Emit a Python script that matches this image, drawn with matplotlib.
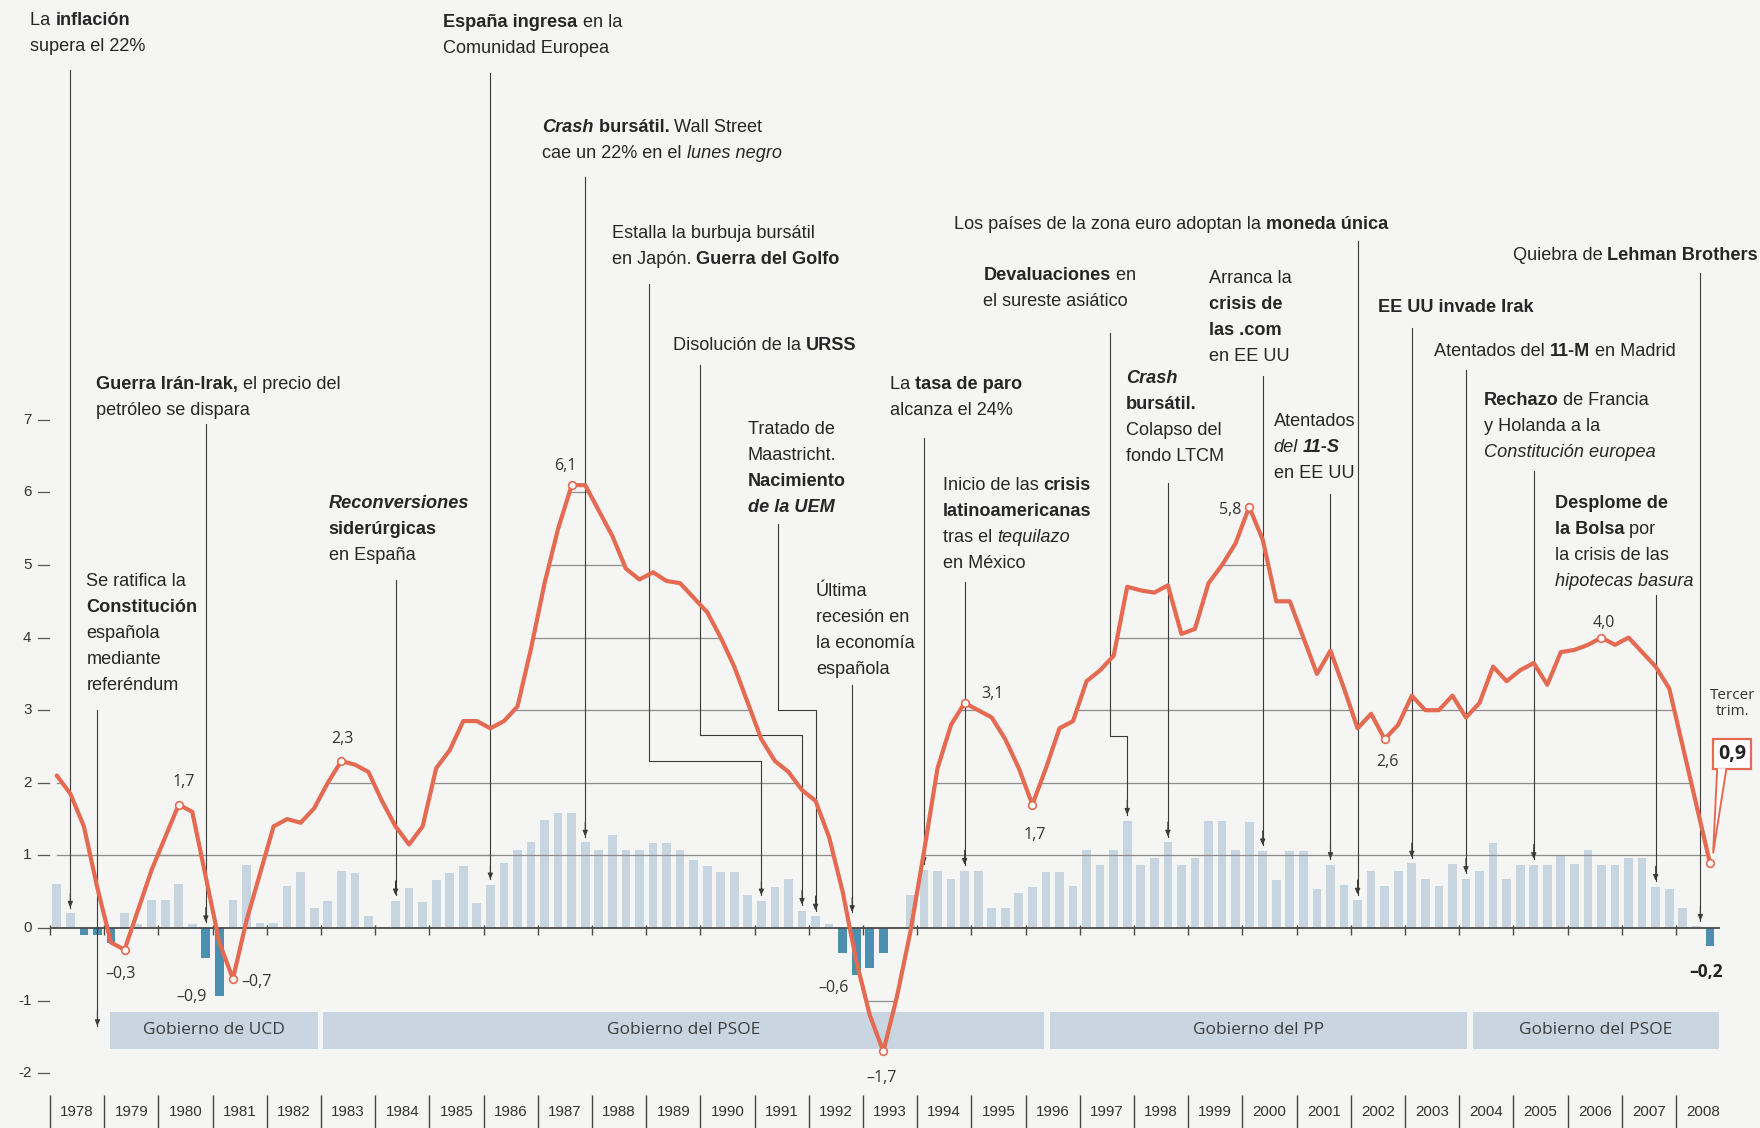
import numpy as np
import matplotlib
matplotlib.use('Agg')
import matplotlib.pyplot as plt
from matplotlib import font_manager as fm
from matplotlib.patches import Rectangle, Polygon
from matplotlib.transforms import IdentityTransform

# PIB de España: variación interanual (línea) y trimestral (barras), 1978 T1 - 2008 T3
gdp_yoy = [
    2.1, 1.85, 1.4, 0.55,     # 1978
    -0.2, -0.3, 0.25, 0.8,    # 1979
    1.25, 1.7, 1.6, 0.7,      # 1980
    -0.2, -0.7, 0.1, 0.75,    # 1981
    1.4, 1.5, 1.45, 1.65,     # 1982
    2.0, 2.3, 2.25, 2.15,     # 1983
    1.75, 1.4, 1.15, 1.4,     # 1984
    2.2, 2.45, 2.85, 2.85,    # 1985
    2.75, 2.85, 3.05, 3.85,   # 1986
    4.75, 5.5, 6.1, 6.1,      # 1987
    5.75, 5.4, 4.95, 4.8,     # 1988
    4.9, 4.78, 4.75, 4.55,    # 1989
    4.35, 4.0, 3.6, 3.1,      # 1990
    2.6, 2.3, 2.15, 1.9,      # 1991
    1.75, 1.25, 0.5, -0.45,   # 1992
    -1.2, -1.7, -0.95, -0.05, # 1993
    1.05, 2.2, 2.8, 3.1,      # 1994
    3.0, 2.9, 2.6, 2.2,       # 1995
    1.7, 2.2, 2.75, 2.85,     # 1996
    3.4, 3.55, 3.75, 4.7,     # 1997
    4.65, 4.62, 4.72, 4.05,   # 1998
    4.12, 4.75, 5.0, 5.3,     # 1999
    5.8, 5.35, 4.5, 4.5,      # 2000
    4.0, 3.5, 3.82, 3.3,      # 2001
    2.75, 2.95, 2.6, 2.8,     # 2002
    3.2, 3.0, 3.0, 3.2,       # 2003
    2.9, 3.1, 3.6, 3.4,       # 2004
    3.55, 3.65, 3.35, 3.8,    # 2005
    3.83, 3.9, 4.0, 3.9,      # 2006
    4.0, 3.8, 3.6, 3.3,       # 2007
    2.5, 1.7, 0.9,            # 2008
]
gdp_qoq = [
    0.6, 0.2, -0.1, -0.1,
    -0.2, 0.2, 0.05, 0.38,
    0.38, 0.6, 0.06, -0.41,
    -0.93, 0.38, 0.87, 0.07,
    0.07, 0.58, 0.77, 0.27,
    0.37, 0.78, 0.76, 0.17,
    0.02, 0.37, 0.55, 0.36,
    0.66, 0.76, 0.85, 0.35,
    0.59, 0.89, 1.08, 1.18,
    1.49, 1.59, 1.58, 1.18,
    1.08, 1.28, 1.08, 1.07,
    1.17, 1.17, 1.07, 0.94,
    0.86, 0.77, 0.77, 0.45,
    0.37, 0.56, 0.67, 0.24,
    0.16, 0.06, -0.35, -0.65,
    -0.55, -0.35, 0.02, 0.45,
    0.8, 0.78, 0.68, 0.79,
    0.78, 0.27, 0.27, 0.48,
    0.57, 0.77, 0.77, 0.58,
    1.07, 0.87, 1.08, 1.48,
    0.87, 0.96, 1.18, 0.87,
    0.96, 1.47, 1.47, 1.07,
    1.46, 1.06, 0.66, 1.06,
    1.06, 0.54, 0.87, 0.59,
    0.38, 0.79, 0.58, 0.79,
    0.89, 0.67, 0.58, 0.88,
    0.68, 0.78, 1.17, 0.67,
    0.87, 0.87, 0.87, 0.99,
    0.88, 1.07, 0.87, 0.87,
    0.96, 0.96, 0.57, 0.54,
    0.27, 0.03, -0.25,
]
years = list(range(1978, 2009))
y_ticks = [7, 6, 5, 4, 3, 2, 1, 0, -1, -2]

gov_labels = ['Gobierno de UCD', 'Gobierno del PSOE', 'Gobierno del PP', 'Gobierno del PSOE']
gov_start = [1979.11, 1983.04, 1996.45, 2004.25]
gov_end = [1982.94, 1996.34, 2004.15, 2008.79]

# puntos destacados de la línea (índice de trimestre) y sus etiquetas
marked_idx = [5, 9, 13, 21, 38, 61, 67, 72, 88, 98, 114, 122]
marked_txt = ['–0,3', '1,7', '–0,7', '2,3', '6,1', '–1,7', '3,1', '1,7', '5,8', '2,6', '4,0']
marked_pos = [(1979.31, -0.63), (1980.47, 2.01), (1981.82, -0.74), (1983.39, 2.6), (1987.5, 6.36),
              (1993.34, -2.06), (1995.39, 3.22), (1996.17, 1.28), (1999.78, 5.76), (2002.67, 2.28),
              (2006.67, 4.2)]
bar_lbl_txt = ['–0,9', '–0,6']
bar_lbl_pos = [(1980.62, -0.95), (1992.46, -0.83)]

xq = 1978.125 + np.arange(len(gdp_yoy)) / 4
yoy = np.array(gdp_yoy)
qoq = np.array(gdp_qoq)

RED = '#e46a52'
LIGHT = '#c7d5e1'
DARK = '#4b90ae'
BAND = '#c9d6e2'
TXT = '#262626'
LEAD = '#3a3a3a'
BG = '#f5f5f3'

names = {f.name for f in fm.fontManager.ttflist}
if 'Liberation Sans Narrow' in names:
    NARROW, NS = 'Liberation Sans Narrow', 1.0
else:
    NARROW, NS = 'Liberation Sans', 0.84
plt.rcParams['font.family'] = ['Open Sans', 'DejaVu Sans']

fig = plt.figure(figsize=(17.6, 11.28), dpi=100)
fig.patch.set_facecolor(BG)
ax = fig.add_axes([0, 0, 1, 1])
X0 = 1978 - 50 / 54.2
Y1 = 928 / 72.6
ax.set_xlim(X0, X0 + 1760 / 54.2)
ax.set_ylim(Y1 - 1128 / 72.6, Y1)
ax.axis('off')
renderer = fig.canvas.get_renderer()


def parse(line):
    segs, buf, b, it = [], '', False, False
    for ch in line:
        if ch in '*_':
            if buf:
                segs.append((buf, b, it))
                buf = ''
            if ch == '*':
                b = not b
            else:
                it = not it
        else:
            buf += ch
    if buf:
        segs.append((buf, b, it))
    return segs


def seg_width(s, kw):
    t = ax.text(0, 0, s + '|', transform=IdentityTransform(), **kw)
    w1 = t.get_window_extent(renderer).width
    t.set_text('|')
    w2 = t.get_window_extent(renderer).width
    t.remove()
    return w1 - w2


def rich(x, y, markup, size=15.5, lh=26):
    px, py = ax.transData.transform((x, y))
    for n, line in enumerate(markup.split('|')):
        cx = px
        for seg, b, it in parse(line):
            kw = dict(fontfamily=NARROW, fontsize=size * NS, color=TXT,
                      fontweight='bold' if b else 'normal',
                      fontstyle='italic' if it else 'normal')
            ax.text(cx, py - n * lh, seg, transform=IdentityTransform(),
                    ha='left', va='baseline', zorder=6, **kw)
            cx += seg_width(seg, kw)


def Q(k):
    return xq[k]


# bandas de gobierno
for lab, s, e in zip(gov_labels, gov_start, gov_end):
    ax.add_patch(Rectangle((s, -1.67), e - s, 0.51, color=BAND, lw=0, zorder=1))
    ax.text((s + e) / 2, -1.41, lab, ha='center', va='center', fontsize=12.5, color='#3c3c3c', zorder=2)

# barras
ax.bar(xq, qoq, width=0.16, color=[LIGHT if v >= 0 else DARK for v in qoq], zorder=2)

# rejilla solo bajo la curva
poly = ax.fill_between(xq, yoy, 0, color='none', lw=0)
clip = poly.get_paths()[0]
for v in [-1, 1, 2, 3, 4, 5, 6]:
    gl = ax.hlines(v, 1978, 2008.8, color='#8d8d8d', lw=0.9, zorder=2.5)
    gl.set_clip_path(clip, ax.transData)
ax.hlines(1, 1978.4, 1986.2, color='#8d8d8d', lw=0.9, zorder=2.5)

# eje cero y marcas de año
ax.hlines(0, 1978, 2008.82, color='#4a4a4a', lw=1.3, zorder=3)
ax.vlines(years, -0.1, 0.04, color='#4a4a4a', lw=1.0, zorder=3)

# etiquetas del eje y
for v in y_ticks:
    ax.text(1977.66, v, str(v), ha='right', va='center', fontfamily=NARROW, fontsize=13 * NS, color='#333333')
    ax.plot([1977.78, 1977.98], [v, v], color='#555555', lw=0.9)

# años
ax.vlines(years, -2.30, -2.76, color='#444444', lw=1.0)
for yr in years:
    ax.text(yr + 0.5, -2.53, str(yr), ha='center', va='center', fontfamily=NARROW, fontsize=13 * NS, color='#333333')

# anotaciones de acontecimientos: texto, posición, trazo del conector, punta
events = [
    ('La *inflación*|supera el 22%', 1977.637, 12.44, [(Q(1), 11.82)], 1),
    ('*Guerra Irán-Irak,* el precio del|petróleo se dispara', 1978.84, 7.43, [(Q(11), 6.94)], 11),
    ('Se ratifica la|*Constitución*|española|mediante|referéndum', 1978.67, 4.71, [(Q(3), 3.0)], (Q(3), -1.35)),
    ('*_Reconversiones_*|*siderúrgicas*|en España', 1983.145, 5.79, [(Q(25), 4.79)], 25),
    ('*España ingresa* en la|Comunidad Europea', 1985.26, 12.41, [(Q(32), 11.78)], 32),
    ('*_Crash_ bursátil.* Wall Street|cae un 22% en el _lunes negro_', 1987.08, 10.96, [(Q(39), 10.34)], 39),
    ('Estalla la burbuja bursátil|en Japón. *Guerra del Golfo*', 1988.36, 9.51,
     [(1989.05, 8.87), (1989.05, 2.3), (Q(52), 2.3)], 52),
    ('Disolución de la *URSS*', 1989.50, 7.96, [(1990.0, 7.76), (1990.0, 2.66), (Q(55), 2.66)], 55),
    ('Tratado de|Maastricht.|*Nacimiento*|*_de la UEM_*', 1990.87, 6.80,
     [(1991.44, 5.56), (1991.44, 3.0), (Q(56), 3.0)], 56),
    ('Última|recesión en|la economía|española', 1992.13, 4.57, [(1992.8, 3.35)], (1992.8, 0.22)),
    ('La *tasa de paro*|alcanza el 24%', 1993.50, 7.42, [(Q(64), 6.75)], 64),
    ('Inicio de las *crisis*|*latinoamericanas*|tras el _tequilazo_|en México', 1994.47, 6.03, [(Q(67), 4.77)], 67),
    ('Los países de la zona euro adoptan la *moneda única*', 1994.68, 9.63, [(Q(96), 9.46)], 96),
    ('*Devaluaciones* en|el sureste asiático', 1995.22, 8.92,
     [(1997.56, 8.2), (1997.56, 2.65), (Q(79), 2.65)], 79),
    ('Arranca la|*crisis de*|*las .com*|en EE UU', 1999.38, 8.89, [(Q(89), 7.6)], 89),
    ('*_Crash_*|*bursátil.*|Colapso del|fondo LTCM', 1997.85, 7.51, [(Q(82), 6.13)], 82),
    ('Atentados|_del_ *_11-S_*|en EE UU', 2000.58, 6.92, [(Q(94), 5.98)], 94),
    ('*EE UU invade Irak*', 2002.51, 8.48, [(Q(100), 8.27)], 100),
    ('Atentados del *11-M* en Madrid', 2003.54, 7.88, [(Q(104), 7.68)], 104),
    ('*Rechazo* de Francia|y Holanda a la|_Constitución europea_', 2004.45, 7.20, [(Q(109), 6.29)], 109),
    ('*Desplome de*|*la Bolsa* por|la crisis de las|_hipotecas basura_', 2005.76, 5.79, [(Q(118), 4.59)], 118),
    ('Quiebra de *Lehman Brothers*', 2004.99, 9.20, [(2008.45, 9.02)], (2008.45, 0.1)),
]

for txt, tx, ty, path, tip in events:
    rich(tx, ty, txt)
    if isinstance(tip, tuple):
        end = tip
    else:
        end = (Q(tip), max(qoq[tip], 0) + 0.08)
    pts = path + [end]
    xs, ys = zip(*pts)
    ax.plot(xs, ys, color=LEAD, lw=0.8, zorder=3)
    ax.annotate('', xy=end, xytext=(end[0], end[1] + 0.2),
                arrowprops=dict(arrowstyle='-|>,head_length=0.35,head_width=0.15',
                                color=LEAD, lw=0.8, shrinkA=0, shrinkB=0), zorder=3)

# línea interanual
ax.plot(xq, yoy, color=RED, lw=3.0, solid_joinstyle='round', solid_capstyle='round', zorder=4)
ax.plot(xq[marked_idx], yoy[marked_idx], 'o', ms=5.5, mfc='white', mec=RED, mew=1.2, zorder=5)

for t, (x, y) in zip(marked_txt, marked_pos):
    ax.text(x, y, t, ha='center', va='center', fontsize=11.5, color='#333333', zorder=6)
for t, (x, y) in zip(bar_lbl_txt, bar_lbl_pos):
    ax.text(x, y, t, ha='center', va='center', fontsize=11.5, color='#333333', zorder=6)
ax.text(2008.55, -0.6, '–0,2', ha='center', va='center', fontsize=12.5, fontweight='bold', color='#222222', zorder=6)

# último dato: tercer trimestre de 2008
ax.text(2009.05, 3.09, 'Tercer\ntrim.', ha='center', va='center', fontsize=11, color='#333333',
        linespacing=1.1, zorder=6)
ax.text(2009.03, 2.4, f'{gdp_yoy[-1]:.1f}'.replace('.', ','), ha='center', va='center', fontsize=14,
        fontweight='bold', color='#222222', zorder=7,
        bbox=dict(boxstyle='square,pad=0.25', fc='white', ec=RED, lw=1.6))
ax.add_patch(Polygon([(2008.76, 2.2), (xq[-1] + 0.06, 1.03), (2008.93, 2.2)], closed=False,
                     fc='white', ec=RED, lw=1.4, zorder=8))

fig.savefig('out.png', dpi=100, facecolor=BG)
